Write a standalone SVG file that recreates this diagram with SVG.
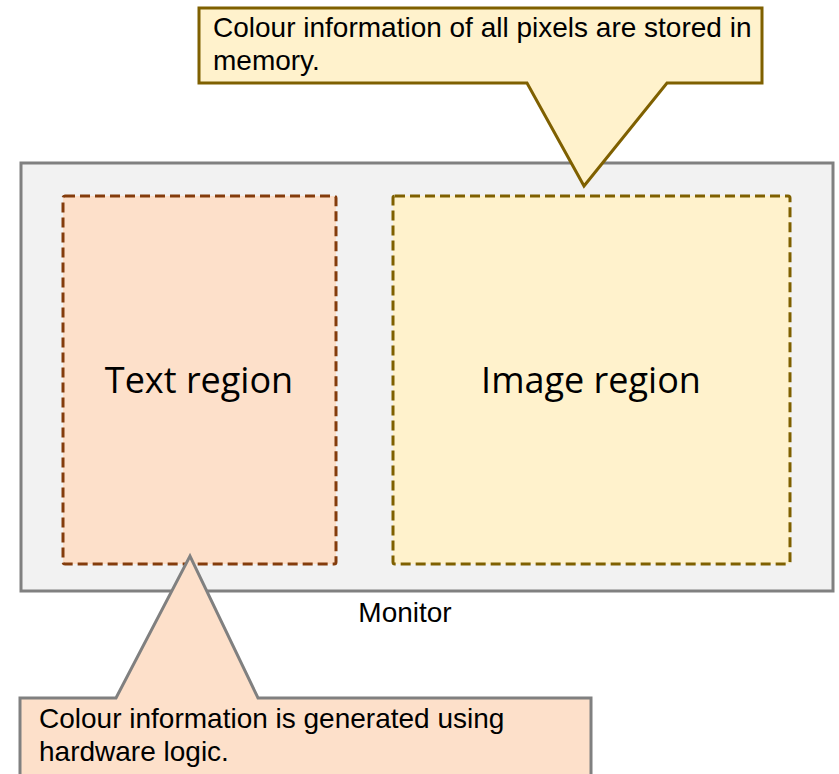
<svg xmlns="http://www.w3.org/2000/svg" width="839" height="774" viewBox="0 0 839 774">
<style>
.lbl{font-family:"Liberation Sans",Arial,sans-serif;font-size:28px;fill:#000}
.big{font-family:"Open Sans","Noto Sans",sans-serif;font-size:36px;fill:#000}
.region{stroke-width:3;stroke-dasharray:10 5}
</style>
<rect width="839" height="774" fill="#ffffff"/>
<g id="monitor">
<rect x="21" y="163" width="812" height="428" fill="#f2f2f2" stroke="#808080" stroke-width="3"/>
<text class="lbl" x="405" y="622" text-anchor="middle">Monitor</text>
</g>
<g id="text-region">
<rect class="region" x="63" y="196" width="273" height="368" rx="2" fill="#fde0ca" stroke="#843c0c"/>
<text class="big" x="199" y="393" text-anchor="middle">Text region</text>
</g>
<g id="image-region">
<rect class="region" x="393" y="196" width="397" height="368" rx="2" fill="#fff2cc" stroke="#7f6000"/>
<text class="big" x="591" y="393" text-anchor="middle">Image region</text>
</g>
<g id="callout-memory">
<path d="M199,8 H762 V83 H667 L584,186 L527,83 H199 Z" fill="#fff2cc" stroke="#7f6000" stroke-width="3"/>
<text class="lbl" x="213" y="37">Colour information of all pixels are stored in</text>
<text class="lbl" x="213" y="70">memory.</text>
</g>
<g id="callout-hardware">
<path d="M20,698 H116 L190,556 L258,698 H591 V790 H20 Z" fill="#fde0ca" stroke="#808080" stroke-width="3"/>
<text class="lbl" x="39" y="728">Colour information is generated using</text>
<text class="lbl" x="39" y="761">hardware logic.</text>
</g>
<g id="connectors"/>
</svg>
